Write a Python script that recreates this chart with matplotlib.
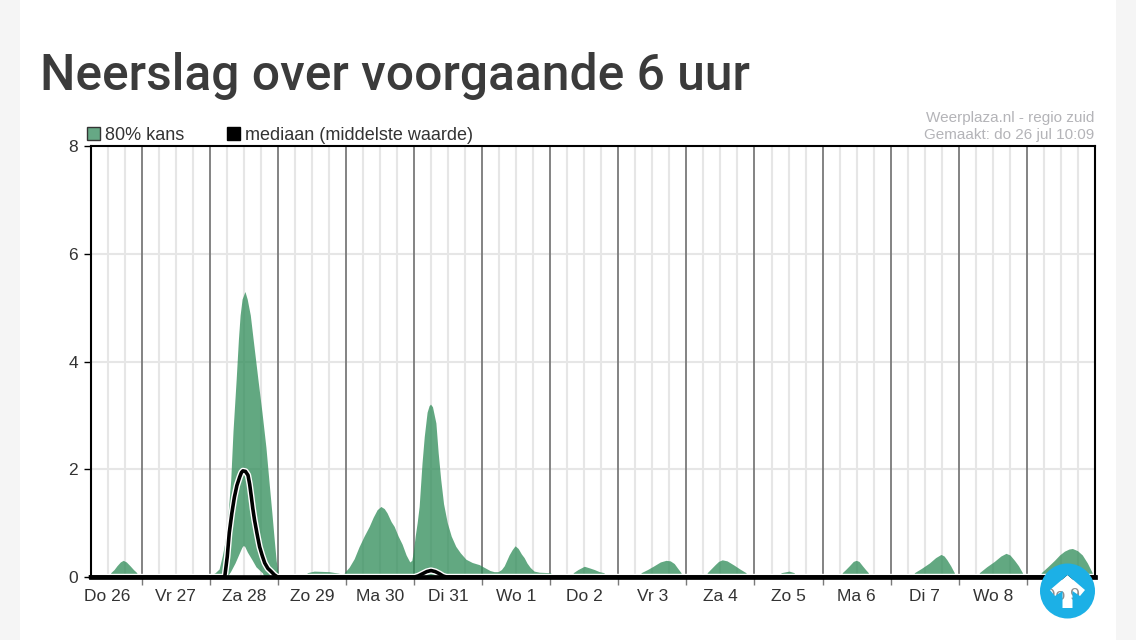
import matplotlib
matplotlib.use("Agg")
import matplotlib.pyplot as plt
from matplotlib.patches import PathPatch, Polygon, Rectangle
from matplotlib.path import Path
import numpy as np

day_labels = ["Do 26", "Vr 27", "Za 28", "Zo 29", "Ma 30", "Di 31", "Wo 1", "Do 2",
              "Vr 3", "Za 4", "Zo 5", "Ma 6", "Di 7", "Wo 8", "Do 9"]
y_ticks = [0, 2, 4, 6, 8]

# hours since Do 26 00:00, nan splits the green band into separate blobs
band_hours = [13.3, 14.5, 15.5, 16.7, 17.7, 18.8, 20.1, 21.3, 22.5, np.nan,
              82.5, 85.0, 90.3, 93.8, np.nan,
              95.6, 97.3, 99.1, 100.8, 102.6, 104.4, 105.8, 107.2, 108.5, 109.7, 110.7, 112.1, 113.2,
              114.6, 116.0, 117.4, 118.7, 119.4, 119.9, 120.6, 121.3, 122.0, 123.0, 123.8, 124.8,
              125.5, 126.0, 126.7, 127.9, 128.7, 129.6, 130.6, 131.9, 133.3, 134.9, 136.5, 138.5,
              140.7, 143.2, 145.6, 147.0, 148.4, 149.8, 151.0, 152.0, 153.7, 154.8, 155.8, 156.9,
              158.0, 159.0, 160.0, 161.1, 162.5, 164.3, 168.4, np.nan,
              176.3, 178.0, 180.2, 182.0, 183.7, 185.5, 187.2, np.nan,
              200.2, 202.5, 204.8, 207.0, 209.0, 210.5, 211.9, 213.0, 214.3, np.nan,
              223.5, 225.0, 226.3, 227.5, 228.8, 230.5, 233.0, 235.0, 237.2, np.nan,
              249.5, 252.4, 254.2, np.nan,
              271.1, 272.3, 273.6, 275.0, 276.0, 277.0, 278.2, 279.3, 280.3, np.nan,
              296.5, 299.0, 301.8, 304.0, 305.9, 307.0, 308.0, 309.3, 310.6, np.nan,
              319.4, 322.0, 324.7, 327.0, 328.8, 330.2, 331.8, 333.2, 334.6, np.nan,
              341.2, 343.5, 345.9, 347.7, 349.4, 351.0, 352.2, 354.0, 355.7, 357.5, 359.2]
band_upper = [0.07, 0.13, 0.2, 0.27, 0.3, 0.27, 0.2, 0.13, 0.07, np.nan,
              0.07, 0.1, 0.09, 0.06, np.nan,
              0.07, 0.17, 0.33, 0.55, 0.75, 0.93, 1.1, 1.24, 1.3, 1.26, 1.18, 1.02, 0.93,
              0.75, 0.6, 0.4, 0.27, 0.3, 0.45, 0.75, 1.0, 1.3, 2.1, 2.6, 3.05,
              3.17, 3.2, 3.15, 2.85, 2.3, 1.8, 1.35, 1.0, 0.75, 0.56, 0.44, 0.32,
              0.26, 0.22, 0.15, 0.11, 0.09, 0.09, 0.13, 0.2, 0.4, 0.5, 0.57, 0.52,
              0.42, 0.35, 0.25, 0.17, 0.1, 0.08, 0.07, np.nan,
              0.07, 0.13, 0.19, 0.16, 0.13, 0.09, 0.07, np.nan,
              0.07, 0.13, 0.2, 0.27, 0.3, 0.29, 0.24, 0.16, 0.07, np.nan,
              0.07, 0.15, 0.22, 0.28, 0.31, 0.29, 0.21, 0.14, 0.07, np.nan,
              0.07, 0.1, 0.07, np.nan,
              0.07, 0.13, 0.2, 0.28, 0.3, 0.28, 0.2, 0.13, 0.07, np.nan,
              0.07, 0.15, 0.25, 0.35, 0.41, 0.38, 0.31, 0.2, 0.07, np.nan,
              0.07, 0.18, 0.28, 0.38, 0.43, 0.4, 0.3, 0.2, 0.07, np.nan,
              0.07, 0.18, 0.3, 0.4, 0.47, 0.51, 0.52, 0.48, 0.4, 0.25, 0.07]

# the Za 28 blob is the only one whose lower bound lifts off the axis
za_hours = [48.7, 50.1, 51.5, 52.6, 53.6, 54.4, 55.0, 55.6, 56.4, 57.5, 58.3, 58.9, 59.6, 60.6, 61.4,
            62.5, 63.5, 65.2, 66.6, 68.0, 69.1, 70.1, 70.9, 71.6, 72.3]
za_upper = [0.03, 0.07, 0.14, 0.38, 0.65, 1.0, 1.4, 1.8, 2.7, 3.65, 4.4, 4.85, 5.15, 5.29, 5.15,
            4.85, 4.4, 3.65, 3.05, 2.4, 1.75, 1.18, 0.7, 0.3, 0.05]
za_lower_hours = [48.7, 54.3, 55.5, 57.1, 58.5, 59.5, 60.0, 60.5, 61.5, 63.1, 64.5, 66.7, 67.4, 72.3]
za_lower = [0, 0, 0.09, 0.25, 0.42, 0.54, 0.575, 0.56, 0.45, 0.31, 0.18, 0.07, 0, 0]

median_hours = [6, 53.3, 54.2, 54.9, 55.8, 56.7, 57.6, 58.6, 59.2, 59.7, 60.6, 61.5, 62.1, 62.7, 63.2,
                63.8, 64.7, 65.6, 66.5, 67.4, 68.5, 69.7, 70.8, 71.9,
                120.2, 121.5, 123.0, 124.5, 126.0, 127.5, 129.0, 130.2, 131.4, 360]
median = [0, 0, 0.38, 0.82, 1.18, 1.48, 1.7, 1.86, 1.94, 1.97, 1.96, 1.89, 1.72, 1.48, 1.27,
          1.06, 0.8, 0.56, 0.4, 0.26, 0.16, 0.1, 0.04, 0,
          0, 0.02, 0.06, 0.1, 0.12, 0.1, 0.06, 0.02, 0, 0]

W, H = 1136, 640
plt.rcParams["font.family"] = ["Liberation Sans", "DejaVu Sans"]
TEXT = "#333333"
GREEN = "#2e8b57"

fig = plt.figure(figsize=(W / 100, H / 100), dpi=100, facecolor="white")

# page overlay in pixel coordinates
page = fig.add_axes([0, 0, 1, 1], zorder=0)
page.set_xlim(0, W)
page.set_ylim(H, 0)
page.axis("off")
page.add_patch(Rectangle((0, 0), 20, H, color="#f5f5f5", lw=0))
page.add_patch(Rectangle((1116, 0), 20, H, color="#f5f5f5", lw=0))
page.text(40, 76, "Neerslag over voorgaande 6 uur", family="Roboto", weight="medium", stretch="normal",
          fontsize=35.8, color="#3b3b3b", va="center", ha="left")

left, right, top, bottom = 90.5, 1095, 146, 577
ax = fig.add_axes([left / W, 1 - bottom / H, (right - left) / W, (bottom - top) / H], zorder=1)
ax.set_facecolor("none")
ax.set_xlim(6, 360)
ax.set_ylim(0, 8)

major = np.arange(24, 360, 24)
minor = [h for h in np.arange(12, 360, 6) if h % 24 != 0]
ax.vlines(minor, 0, 8, color="#e6e6e6", lw=1.5, zorder=1)
ax.hlines([2, 4, 6], 6, 360, color="#e6e6e6", lw=1.5, zorder=1)
ax.vlines(major, 0, 8, color="#7a7a7a", lw=1.3, zorder=2)

ax.fill_between(band_hours, 0, band_upper, color=GREEN, alpha=0.75, lw=0, zorder=3)
ax.fill(za_hours + za_lower_hours[::-1], za_upper + za_lower[::-1], color=GREEN, alpha=0.75, lw=0, zorder=3)
ax.plot(median_hours, median, color="white", lw=4.6, zorder=4, solid_joinstyle="round")
ax.plot(median_hours, median, color="black", lw=2.6, zorder=5, clip_on=False, solid_joinstyle="round")

ax.set_yticks(y_ticks)
ax.set_xticks(major)
ax.set_xticklabels([])
ax.tick_params(axis="y", length=5, width=1, pad=4, labelsize=12.5, labelcolor=TEXT)
ax.tick_params(axis="x", length=6, width=1, color="#7a7a7a")
for name, spine in ax.spines.items():
    spine.set_linewidth(1.5)
    spine.set_zorder(6)
ax.spines["bottom"].set_linewidth(3.4)

for i, label in enumerate(day_labels[:-1]):
    ax.annotate(label, (12 + 24 * i, 0), xycoords=("data", "axes fraction"), xytext=(0, -14),
                textcoords="offset points", ha="center", va="center", fontsize=12.5, color=TEXT,
                annotation_clip=False)

# legend and credits above the plot
over = fig.add_axes([0, 0, 1, 1], zorder=2)
over.set_xlim(0, W)
over.set_ylim(H, 0)
over.axis("off")
over.add_patch(Rectangle((87, 127), 13, 13, facecolor="#66a885", edgecolor="#333333", lw=1))
over.text(105, 135, "80% kans", fontsize=13, color=TEXT, va="center")
over.add_patch(Rectangle((227, 127), 13, 13, facecolor="black", edgecolor="black", lw=1))
over.text(245, 135, "mediaan (middelste waarde)", fontsize=13, color=TEXT, va="center")
over.text(1094, 118, "Weerplaza.nl - regio zuid", fontsize=11, color="#b4b4b8", va="center", ha="right")
over.text(1094, 135, "Gemaakt: do 26 jul 10:09", fontsize=11, color="#b4b4b8", va="center", ha="right")

# scroll-to-top button: white arrow, last day label on it, blue disc with an arrow-shaped hole on top
arrow_xy = [(1067.5, 575), (1050, 590), (1055, 596), (1062.5, 591), (1062.5, 608), (1072.5, 608),
            (1072.5, 591), (1080, 596), (1085, 590), (1067.5, 575)]
over.add_patch(Polygon(arrow_xy, closed=True, facecolor="white", lw=0, zorder=2))
last_x = left + (12 + 24 * 14 - 6) / (360 - 6) * (right - left)
over.text(last_x, 596, day_labels[-1], ha="center", va="center", fontsize=12.5, color=TEXT,
          alpha=0.55, zorder=3)
disc = Path.circle((1067.5, 591), 27.5)
button = Path.make_compound_path(disc, Path(arrow_xy, closed=True))
over.add_patch(PathPatch(button, facecolor="#1cb0e6", lw=0, zorder=4))

fig.savefig("out.png", dpi=100)
plt.close(fig)
